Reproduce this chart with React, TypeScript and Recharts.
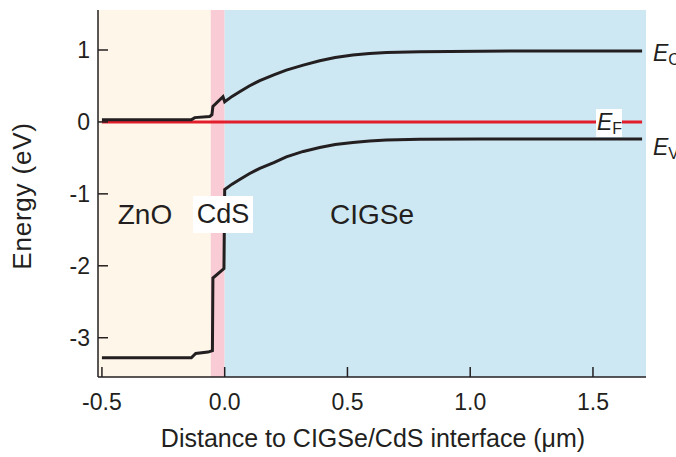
import { LineChart, Line, XAxis, YAxis, ReferenceArea } from "recharts";

const FONT = "'Liberation Sans', Arial, sans-serif";
const INK = "#231f20";

const xTicks = [-0.5, 0, 0.5, 1, 1.5];
const yTicks = [-3, -2, -1, 0, 1];
const xDomain = [-0.516, 1.716];
const yDomain = [-3.546, 1.556];

// layer boundaries (µm)
const znoStart = -0.516;
const cdsStart = -0.057;
const cigseStart = 0;
const cigseEnd = 1.716;

// conduction band
const ecDist = [-0.5, -0.136, -0.122, -0.061, -0.052, -0.048, -0.007, 0.0, 0.03, 0.061, 0.1, 0.143, 0.2, 0.251, 0.32, 0.387, 0.45, 0.522, 0.59, 0.659, 0.795, 1.04, 1.3, 1.7];
const ecEnergy = [0.03, 0.03, 0.06, 0.075, 0.1, 0.215, 0.35, 0.28, 0.355, 0.42, 0.5, 0.575, 0.655, 0.72, 0.79, 0.85, 0.895, 0.93, 0.95, 0.965, 0.977, 0.984, 0.986, 0.986];

// valence band
const evDist = [-0.5, -0.136, -0.118, -0.068, -0.05, -0.048, -0.003, 0.0, 0.03, 0.061, 0.1, 0.143, 0.2, 0.251, 0.32, 0.387, 0.45, 0.522, 0.59, 0.659, 0.795, 1.04, 1.3, 1.7];
const evEnergy = [-3.28, -3.28, -3.22, -3.2, -3.18, -2.17, -2.04, -0.94, -0.865, -0.8, -0.72, -0.645, -0.565, -0.485, -0.41, -0.355, -0.315, -0.285, -0.265, -0.252, -0.242, -0.237, -0.236, -0.236];

// Fermi level
const efDist = [-0.5, 1.7];
const efEnergy = [0, 0];

const toRows = (d: number[], e: number[]) => d.map((v, i) => ({ d: v, e: e[i] }));
const ecData = toRows(ecDist, ecEnergy);
const evData = toRows(evDist, evEnergy);
const efData = toRows(efDist, efEnergy);

const LeftTick = ({ x, y, payload }: any) => (
  <g>
    <line x1={x + 8} x2={x + 18} y1={y} y2={y} stroke={INK} strokeWidth={1.5} />
    <text x={x} y={y} dy="0.35em" textAnchor="end" fontSize={23} fill={INK} fontFamily={FONT}>
      {payload.value}
    </text>
  </g>
);

const RightTick = ({ x, y }: any) => (
  <line x1={x} x2={x - 10} y1={y} y2={y} stroke={INK} strokeWidth={1.5} />
);

const BottomTick = ({ x, y, payload }: any) => (
  <g>
    <line x1={x} x2={x} y1={y - 16} y2={y - 26} stroke={INK} strokeWidth={1.5} />
    <text x={x} y={y} dy="0.72em" textAnchor="middle" fontSize={23} fill={INK} fontFamily={FONT}>
      {payload.value.toFixed(1)}
    </text>
  </g>
);

const TopTick = ({ x, y }: any) => (
  <line x1={x} x2={x} y1={y} y2={y + 10} stroke={INK} strokeWidth={1.5} />
);

const BandLabel = ({ x, y, sub }: { x: number; y: number; sub: string }) => (
  <text x={x} y={y} fontSize={23} fill={INK} fontFamily={FONT}>
    <tspan fontStyle="italic">E</tspan>
    <tspan fontSize={16} dy={4}>{sub}</tspan>
  </text>
);

export default function App() {
  return (
    <div style={{ position: "absolute", left: 0, top: 0, width: 676, height: 457, background: "#fff" }}>
      <LineChart width={676} height={457} margin={{ top: 10, right: 30, bottom: 0, left: 0 }}>
        <XAxis
          dataKey="d"
          type="number"
          domain={xDomain}
          ticks={xTicks}
          allowDataOverflow
          height={80}
          tickSize={0}
          tickMargin={16}
          tickLine={false}
          tick={<BottomTick />}
          axisLine={{ stroke: INK, strokeWidth: 1.5 }}
        />
        <XAxis
          xAxisId="top"
          orientation="top"
          dataKey="d"
          type="number"
          domain={xDomain}
          ticks={xTicks}
          allowDataOverflow
          height={0}
          tickSize={0}
          tickMargin={0}
          tickLine={false}
          tick={<TopTick />}
          axisLine={{ stroke: INK, strokeWidth: 1.5 }}
        />
        <YAxis
          type="number"
          domain={yDomain}
          ticks={yTicks}
          allowDataOverflow
          width={98}
          tickSize={0}
          tickMargin={8}
          tickLine={false}
          tick={<LeftTick />}
          axisLine={{ stroke: INK, strokeWidth: 1.5 }}
        />
        <YAxis
          yAxisId="right"
          orientation="right"
          type="number"
          domain={yDomain}
          ticks={yTicks}
          allowDataOverflow
          width={0}
          tickSize={0}
          tickMargin={0}
          tickLine={false}
          tick={<RightTick />}
          axisLine={{ stroke: INK, strokeWidth: 1.5 }}
        />
        <ReferenceArea x1={znoStart} x2={cdsStart} fill="#fff6ea" fillOpacity={1} stroke="none" />
        <ReferenceArea x1={cdsStart} x2={cigseStart} fill="#f9cbd4" fillOpacity={1} stroke="none" />
        <ReferenceArea x1={cigseStart} x2={cigseEnd} fill="#cde7f3" fillOpacity={1} stroke="none" />
        <Line data={efData} dataKey="e" type="linear" stroke="#e31e2c" strokeWidth={3} dot={false} isAnimationActive={false} />
        <Line data={ecData} dataKey="e" type="linear" stroke={INK} strokeWidth={3} dot={false} isAnimationActive={false} />
        <Line data={evData} dataKey="e" type="linear" stroke={INK} strokeWidth={3} dot={false} isAnimationActive={false} />
      </LineChart>
      <svg width={676} height={457} style={{ position: "absolute", left: 0, top: 0, pointerEvents: "none" }}>
        <text x={22} y={196} transform="rotate(-90 22 196)" textAnchor="middle" dominantBaseline="central" fontSize={26} letterSpacing={0.8} fill={INK} fontFamily={FONT}>
          Energy (eV)
        </text>
        <text x={373} y={438} textAnchor="middle" dominantBaseline="central" fontSize={25} fill={INK} fontFamily={FONT}>
          Distance to CIGSe/CdS interface (μm)
        </text>
        <text x={145} y={214} textAnchor="middle" dominantBaseline="central" fontSize={28} fill={INK} fontFamily={FONT}>
          ZnO
        </text>
        <rect x={193} y={196} width={60} height={37} fill="#fff" />
        <text x={223} y={214} textAnchor="middle" dominantBaseline="central" fontSize={27} fill={INK} fontFamily={FONT}>
          CdS
        </text>
        <text x={372} y={214} textAnchor="middle" dominantBaseline="central" fontSize={28} fill={INK} fontFamily={FONT}>
          CIGSe
        </text>
        <BandLabel x={653} y={61} sub="C" />
        <rect x={596} y={109} width={26} height={28} fill="#fff" />
        <BandLabel x={597} y={130} sub="F" />
        <BandLabel x={653} y={155} sub="V" />
      </svg>
    </div>
  );
}
